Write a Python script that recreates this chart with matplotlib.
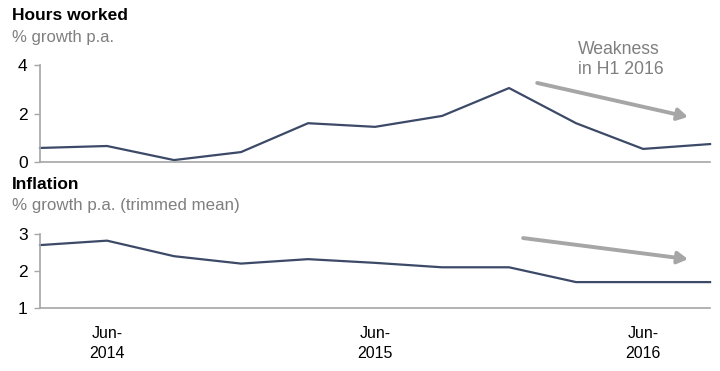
import matplotlib.pyplot as plt

plt.rcParams['font.family'] = ['Liberation Sans', 'DejaVu Sans']

quarters = ['Mar-2014', 'Jun-2014', 'Sep-2014', 'Dec-2014', 'Mar-2015', 'Jun-2015',
            'Sep-2015', 'Dec-2015', 'Mar-2016', 'Jun-2016', 'Sep-2016']
hours = [0.58, 0.66, 0.08, 0.41, 1.6, 1.45, 1.9, 3.05, 1.6, 0.54, 0.74]
inflation = [2.7, 2.82, 2.4, 2.2, 2.32, 2.22, 2.1, 2.1, 1.7, 1.7, 1.7]
tick_labels = ['Jun-\n2014', 'Jun-\n2015', 'Jun-\n2016']
tick_quarters = ['Jun-2014', 'Jun-2015', 'Jun-2016']

line_col = '#3c4a68'
spine_col = '#a6a6a6'
arrow_col = '#a6a6a6'
grey_txt = '#7f7f7f'

x = list(range(len(quarters)))
tick_pos = [quarters.index(q) for q in tick_quarters]

fig = plt.figure(figsize=(7.2, 3.71), dpi=100)
ax1 = fig.add_axes([0.0556, 0.5633, 0.9306, 0.2615])
ax2 = fig.add_axes([0.0556, 0.1698, 0.9306, 0.1995])


def style(ax, ylim, yticks):
    ax.set_xlim(0, len(quarters) - 1)
    ax.set_ylim(*ylim)
    ax.set_yticks(yticks)
    for s in ['top', 'right']:
        ax.spines[s].set_visible(False)
    for s in ['left', 'bottom']:
        ax.spines[s].set_color(spine_col)
        ax.spines[s].set_linewidth(1.2)
    ax.tick_params(axis='y', length=4, width=1, color=spine_col, labelsize=12.5, pad=5)
    ax.tick_params(axis='x', length=0)
    ax.set_facecolor('none')


ax1.plot(x, hours, color=line_col, lw=1.6, clip_on=False)
style(ax1, (0, 4), [0, 2, 4])
ax1.set_xticks([])

ax2.plot(x, inflation, color=line_col, lw=1.6, clip_on=False)
style(ax2, (1, 3), [1, 2, 3])
ax2.set_xticks(tick_pos)
ax2.set_xticklabels(tick_labels, fontsize=11.5, linespacing=1.45)
ax2.tick_params(axis='x', pad=13)

# arrows
ax1.annotate('', xy=(9.67, 1.86), xytext=(7.42, 3.26), annotation_clip=False,
             arrowprops=dict(arrowstyle='-|>,head_length=0.6,head_width=0.35',
                             color=arrow_col, lw=2.8, shrinkA=0, shrinkB=0))
ax2.annotate('', xy=(9.67, 2.32), xytext=(7.21, 2.89), annotation_clip=False,
             arrowprops=dict(arrowstyle='-|>,head_length=0.6,head_width=0.35',
                             color=arrow_col, lw=2.8, shrinkA=0, shrinkB=0))
ax1.text(8.03, 5.0, 'Weakness\nin H1 2016', color=grey_txt, fontsize=12.7,
         ha='left', va='top', linespacing=1.25, clip_on=False)

# titles
fig.text(0.016, 0.957, 'Hours worked', fontsize=12.5, fontweight='bold', va='center')
fig.text(0.016, 0.900, '% growth p.a.', fontsize=12, color=grey_txt, va='center')
fig.text(0.016, 0.504, 'Inflation', fontsize=12.5, fontweight='bold', va='center')
fig.text(0.016, 0.447, '% growth p.a. (trimmed mean)', fontsize=12.2, color=grey_txt, va='center')

fig.savefig('out.png', dpi=100)
